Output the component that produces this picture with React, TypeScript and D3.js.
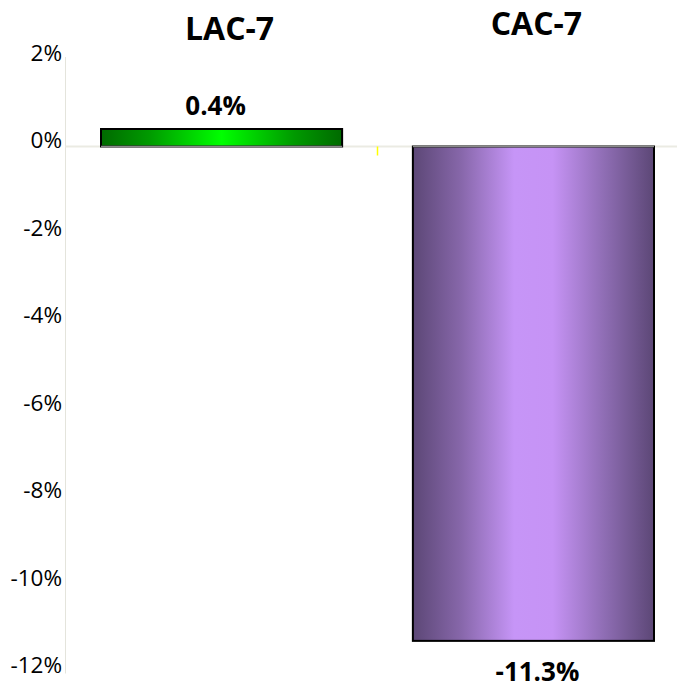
import React from "react";
import * as d3 from "d3";

const categories: string[] = ["LAC-7", "CAC-7"];
const values: number[] = [0.4, -11.3];
const valueLabels: string[] = ["0.4%", "-11.3%"];
const yTicks: number[] = [2, 0, -2, -4, -6, -8, -10, -12];

const W = 677;
const H = 688;
const FONT = "'Open Sans', 'DejaVu Sans', sans-serif";

export default function App() {
  const x = d3
    .scaleBand<string>()
    .domain(categories)
    .range([101, 654])
    .paddingInner(71 / 313)
    .paddingOuter(0);
  const y = d3.scaleLinear().domain([-12, 2]).range([671.5, 59]);
  const axisX = 65.5;
  const y0 = y(0);
  const gradIds = ["gGreen", "gPurple"];
  const catLabelY = [40, 35];

  return (
    <svg
      width={W}
      height={H}
      style={{ position: "absolute", left: 0, top: 0, background: "#fff" }}
    >
      <defs>
        <linearGradient id="gGreen" x1="0" x2="1" y1="0" y2="0">
          <stop offset="0" stopColor="#006a00" />
          <stop offset="0.2" stopColor="#009a00" />
          <stop offset="0.5" stopColor="#00ff00" />
          <stop offset="0.8" stopColor="#009a00" />
          <stop offset="1" stopColor="#006a00" />
        </linearGradient>
        <linearGradient id="gPurple" x1="0" x2="1" y1="0" y2="0">
          <stop offset="0" stopColor="#5c4776" />
          <stop offset="0.2" stopColor="#8767aa" />
          <stop offset="0.42" stopColor="#c695f7" />
          <stop offset="0.58" stopColor="#c693f5" />
          <stop offset="0.8" stopColor="#8d6cb2" />
          <stop offset="1" stopColor="#5c4776" />
        </linearGradient>
      </defs>

      {/* axis line */}
      <line x1={axisX} x2={axisX} y1={y(2) - 2} y2={y(-12) + 2} stroke="#e4e4dc" strokeWidth={1} />
      {/* zero line */}
      <line x1={axisX} x2={W} y1={y0} y2={y0} stroke="#ebebe3" strokeWidth={2} />
      {/* category divider tick */}
      <line
        x1={(x(categories[0])! + x.bandwidth() + x(categories[1])!) / 2}
        x2={(x(categories[0])! + x.bandwidth() + x(categories[1])!) / 2}
        y1={y0}
        y2={y0 + 9}
        stroke="#ffff00"
        strokeWidth={1.5}
      />

      {/* y tick labels */}
      {yTicks.map((t) => (
        <text
          key={t}
          x={62}
          y={y(t)}
          dy="0.08em"
          textAnchor="end"
          fontFamily={FONT}
          fontSize={22.5}
          fill="#000"
        >
          {`${t}%`}
        </text>
      ))}

      {/* bars */}
      {categories.map((c, i) => {
        const v = values[i];
        const bx = x(c)!;
        const bw = x.bandwidth();
        const top = Math.min(y(v), y0);
        const h = Math.abs(y(v) - y0);
        return (
          <g key={c}>
            <rect x={bx} y={top} width={bw} height={h} fill={`url(#${gradIds[i]})`} stroke="#000" strokeWidth={2} />
            <line x1={bx} x2={bx + bw} y1={y0} y2={y0} stroke="#8a8a8a" strokeWidth={1.5} />
          </g>
        );
      })}

      {/* value labels */}
      {categories.map((c, i) => {
        const v = values[i];
        const cx = x(c)! + x.bandwidth() / 2 - (v >= 0 ? 6 : -4);
        const ly = v >= 0 ? y(v) - 14 : y(v) + 40;
        return (
          <text
            key={c}
            x={cx}
            y={ly}
            textAnchor="middle"
            fontFamily={FONT}
            fontWeight="bold"
            fontSize={26}
            fill="#000"
          >
            {valueLabels[i]}
          </text>
        );
      })}

      {/* category labels */}
      {categories.map((c, i) => (
        <text
          key={c}
          x={x(c)! + x.bandwidth() / 2 + (i === 0 ? 8 : 3)}
          y={catLabelY[i]}
          textAnchor="middle"
          fontFamily={FONT}
          fontWeight="bold"
          fontSize={32}
          fill="#000"
        >
          {c}
        </text>
      ))}
    </svg>
  );
}
